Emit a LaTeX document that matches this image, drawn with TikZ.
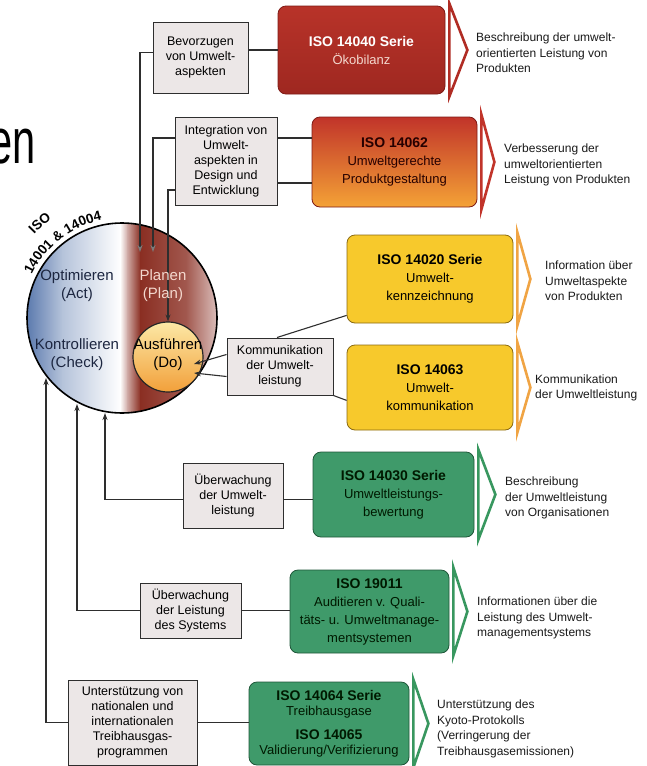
\documentclass[tikz,border=0pt]{standalone}
\usepackage{fontspec}
\setmainfont{Liberation Sans}
\usepackage{xcolor}
\definecolor{isoRed}{HTML}{B02C24}
\definecolor{isoRedTop}{HTML}{B83329}
\definecolor{isoRedDark}{HTML}{7E1A15}
\definecolor{isoRust}{HTML}{C1342A}
\definecolor{isoMid}{HTML}{E2652C}
\definecolor{isoOrange}{HTML}{F4A236}
\definecolor{isoYellow}{HTML}{F7C92C}
\definecolor{isoYellowDark}{HTML}{8A6A12}
\definecolor{isoGreen}{HTML}{3F9A6A}
\definecolor{isoGreenDark}{HTML}{1E5638}
\definecolor{chevOrange}{HTML}{F0A444}
\definecolor{chevGreen}{HTML}{38975F}
\definecolor{taskGray}{HTML}{ECE7E7}
\definecolor{lineGray}{HTML}{2E2E2E}
\definecolor{tipGray}{HTML}{7C7C7C}
\definecolor{actBlue}{HTML}{5A79AD}
\definecolor{actText}{HTML}{1C2640}
\definecolor{planBrown}{HTML}{8A2E22}
\definecolor{planText}{HTML}{F4D8CE}
\definecolor{doTop}{HTML}{FCE8A6}
\definecolor{doBottom}{HTML}{F2A03A}
\usepackage{tikz}
\usetikzlibrary{arrows.meta,calc,decorations.text}
\newcommand{\isoTitle}{\bfseries\fontsize{14}{18}\selectfont}

\begin{document}
\begin{tikzpicture}[x=1pt,y=-1pt,
    every node/.style={inner sep=2pt},
    task/.style={rectangle,draw=lineGray,fill=taskGray,line width=1pt,
                 align=center,font=\fontsize{12.5}{15}\selectfont},
    iso/.style={rectangle,rounded corners=8pt,line width=0.8pt,
                align=center,font=\fontsize{13}{18}\selectfont},
    note/.style={anchor=west,align=left,text=black!90,
                 font=\fontsize{12}{15.5}\selectfont},
    phase/.style={align=center,font=\fontsize{15}{18}\selectfont},
    link/.style={line width=1.1pt,draw=lineGray},
    feed/.style={link,-{Stealth[length=7pt,width=5pt]}},
    feedin/.style={link,-{Stealth[length=7pt,width=5pt,color=tipGray]}},
    chev/.style={line width=2.6pt,line join=miter,fill=white},
  ]
  \useasboundingbox (0,0) rectangle (646,766);
  \clip (0,0) rectangle (646,766);

  % cut-off title
  \node[anchor=base east,inner sep=0pt,font=\fontsize{64}{64}\selectfont] (title) at (36,163) {\scalebox{0.65}[1]{en}};

  % PDCA circle
  \begin{scope}
    \clip (122,318) circle (95pt);
    \shade[left color=actBlue,right color=actBlue!45] (26,222) rectangle (62.5,414);
    \shade[left color=actBlue!45,right color=white] (62,222) rectangle (120.5,414);
    \shade[left color=white,right color=planBrown!40] (120,222) rectangle (127.5,414);
    \shade[left color=planBrown!40,right color=planBrown] (127,222) rectangle (140.5,414);
    \shade[left color=planBrown,right color=planBrown!80!white] (140,222) rectangle (186.5,414);
    \shade[left color=planBrown!80!white,right color=planBrown!30!white] (186,222) rectangle (218,414);
  \end{scope}
  \node[circle,draw=black,line width=1.6pt,minimum size=190pt,inner sep=0pt] (pdca) at (122,318) {};
  \node[circle,draw=black!85,line width=1.2pt,minimum size=70pt,inner sep=0pt,
        top color=doTop,bottom color=doBottom] (do) at (168,357) {};

  \path[decorate,decoration={text along path,text align=center,
        text={|\bfseries\fontsize{13.5}{13.5}\selectfont|14001 {\&} 14004}}]
    (122,318) ++(168:100pt) arc[start angle=168,end angle=88,radius=100pt];
  \path[decorate,decoration={text along path,text align=center,
        text={|\bfseries\fontsize{13.5}{13.5}\selectfont|ISO}}]
    (122,318) ++(150:121pt) arc[start angle=150,end angle=112,radius=121pt];

  % gray task boxes
  \node[task,minimum width=95pt,minimum height=71pt] (b1) at (200.5,57.5) {Bevorzugen\\von Umwelt-\\aspekten};
  \node[task,minimum width=102pt,minimum height=88pt] (b2) at (226,161) {Integration von\\Umwelt-\\aspekten in\\Design und\\Entwicklung};
  \node[task,minimum width=106pt,minimum height=57pt] (b3) at (280,366.5) {Kommunikation\\der Umwelt-\\leistung};
  \node[task,minimum width=100pt,minimum height=65pt] (b4) at (233,495.5) {Überwachung\\der Umwelt-\\leistung};
  \node[task,minimum width=101pt,minimum height=55pt] (b5) at (190.5,610.5) {Überwachung\\der Leistung\\des Systems};
  \node[task,minimum width=129pt,minimum height=85pt] (b6) at (132.5,722.5) {Unterstützung von\\nationalen und\\internationalen\\Treibhausgas-\\programmen};

  % ISO boxes
  \node[iso,minimum width=167pt,minimum height=88pt,draw=isoRedDark,
        top color=isoRedTop,bottom color=isoRed!90!black,text=planText] (iA) at (361.5,50)
        {{\isoTitle\color{white}ISO 14040 Serie}\\Ökobilanz};
  \node[iso,minimum width=165pt,minimum height=90pt,draw=isoRedDark,
        top color=isoRust,middle color=isoMid,bottom color=isoOrange,text=black!85!red] (iB) at (394.5,162)
        {{\isoTitle ISO 14062}\\Umweltgerechte\\Produktgestaltung};
  \node[iso,minimum width=166pt,minimum height=88pt,draw=isoYellowDark,fill=isoYellow] (iC) at (430,279)
        {{\isoTitle ISO 14020 Serie}\\Umwelt-\\kennzeichnung};
  \node[iso,minimum width=166pt,minimum height=85pt,draw=isoYellowDark,fill=isoYellow] (iD) at (430,387.5)
        {{\isoTitle ISO 14063}\\Umwelt-\\kommunikation};
  \node[iso,minimum width=161pt,minimum height=85pt,draw=isoGreenDark,fill=isoGreen,text=black!90!green] (iE) at (393.5,494.5)
        {{\isoTitle ISO 14030 Serie}\\Umweltleistungs-\\bewertung};
  \node[iso,minimum width=159pt,minimum height=83pt,draw=isoGreenDark,fill=isoGreen,text=black!90!green] (iF) at (369.5,611.5)
        {{\isoTitle ISO 19011}\\Auditieren v. Quali-\\täts- u. Umweltmanage-\\mentsystemen};
  \node[iso,minimum width=160pt,minimum height=83pt,draw=isoGreenDark,fill=isoGreen,text=black!90!green,
        font=\fontsize{13}{15}\selectfont] (iG) at (329,723.5)
        {{\isoTitle ISO 14064 Serie}\\Treibhausgase\\[9pt]{\isoTitle ISO 14065}\\Validierung/Verifizierung};

  % chevrons
  \foreach \iso/\col/\tip in {iA/isoRed/22,iB/isoRust/17,iC/chevOrange/17,iD/chevOrange/17,
                              iE/chevGreen/21,iF/chevGreen/18,iG/chevGreen/19}
    \draw[chev,draw=\col] ($(\iso.north east)+(4,-2)$) -- ($(\iso.east)+(\tip,0)$) -- ($(\iso.south east)+(4,2)$) -- cycle;

  % descriptions
  \node[note] (dA) at (474,53) {Beschreibung der umwelt-\\orientierten Leistung von\\Produkten};
  \node[note] (dB) at (502,165) {Verbesserung der\\umweltorientierten\\Leistung von Produkten};
  \node[note] (dC) at (543,281) {Information über\\Umweltaspekte\\von Produkten};
  \node[note] (dD) at (533,388) {Kommunikation\\der Umweltleistung};
  \node[note] (dE) at (503,498) {Beschreibung\\der Umweltleistung\\von Organisationen};
  \node[note] (dF) at (475,618) {Informationen über die\\Leistung des Umwelt-\\managementsystems};
  \node[note] (dG) at (435,729) {Unterstützung des\\Kyoto-Protokolls\\(Verringerung der\\Treibhausgasemissionen)};

  % arrow ends on the circles
  \coordinate (tipA) at (140,252);
  \coordinate (tipB) at (153,252);
  \coordinate (tipC) at (105,413);
  \coordinate (tipD) at (77,404);
  \coordinate (tipE) at (46,378);
  \coordinate (tipF) at (194,364);
  \coordinate (tipG) at (194,373);

  % connections
  \draw[feedin] ([yshift=5pt]b1.west) -| (tipA);
  \draw[feedin] ([yshift=23pt]b2.west) -| (tipB);
  \draw[feed] ([yshift=-29pt]b2.west) -| (do.north);
  \draw[feed] ([yshift=12pt]b3.west) -- (tipF);
  \draw[feed] ([yshift=-10pt]b3.west) -- (tipG);
  \draw[feed] ([yshift=-4pt]b4.west) -| (tipC);
  \draw[feed] (b5.west) -| (tipD);
  \draw[feed] (b6.west) -| (tipE);

  \draw[link] (b1.east |- iA.west) -- (iA.west);
  \draw[link] ([yshift=23pt]b2.east) -- ([yshift=24pt]iB.west);
  \draw[link] ([yshift=-22pt]b2.east) -- ([yshift=-21pt]iB.west);
  \draw[link] ([xshift=-3pt]b3.north) -- ([yshift=8pt]iC.south west);
  \draw[link] (b3.south east) -- ([yshift=30pt]iD.south west);
  \draw[link] ([yshift=-4pt]b4.east) -- ([yshift=-5pt]iE.west);
  \draw[link] (b5.east) -- (b5.east -| iF.west);
  \draw[link] (b6.east) -- (b6.east -| iG.west);

  % phase labels
  \node[phase,text=actText] (act) at (77,286) {Optimieren\\(Act)};
  \node[phase,text=planText] (plan) at (163,286) {Planen\\(Plan)};
  \node[phase,text=actText] (check) at (77,354.5) {Kontrollieren\\(Check)};
  \node[phase,text=black] (doText) at (168,354.5) {Ausführen\\(Do)};
\end{tikzpicture}
\end{document}
